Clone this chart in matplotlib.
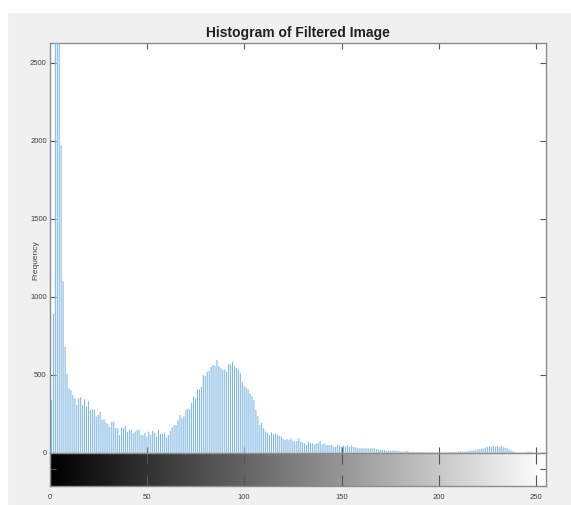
import numpy as np
import matplotlib
matplotlib.use('Agg')
import matplotlib.pyplot as plt
from matplotlib.patches import Rectangle

# histogram counts for gray levels 0..255
c_000 = [3100, 340, 890, 3300, 2900, 3000, 1970, 1100, 680, 505]
c_010 = [413, 402, 370, 349, 306, 349, 355, 306, 342, 295]
c_020 = [331, 274, 278, 278, 231, 241, 263, 210, 214, 193]
c_030 = [184, 163, 199, 199, 157, 157, 113]
c_037 = [162, 156, 171, 135, 145, 145, 124, 135, 145, 150,
         113, 113, 128, 103, 135, 113, 141, 128, 103, 145,
         120, 120, 128, 98, 113, 141, 162, 177, 177, 209,
         241, 220, 231, 274, 284, 278, 321, 359, 348, 406]
c_077 = [406, 423, 498, 491, 519, 526, 551, 562, 556, 594,
         556, 541, 530, 534, 519, 568, 562, 583, 551, 541,
         534, 509, 455, 427, 419, 406, 380, 363, 338, 274,
         235, 177, 192, 156, 135, 128, 113]
c_114 = [130, 118, 124, 118, 109, 103, 88, 81, 88, 81,
         92, 75, 70, 75, 92, 70, 66, 60, 49, 70,
         60, 60, 53, 60, 60, 75, 53, 60, 49, 49,
         49, 49, 38, 38, 53, 45, 38, 45, 38, 49]
c_154 = [38, 45, 38, 34, 32, 28, 28, 28, 28, 28,
         28, 28, 28, 28, 23, 17, 17, 17, 17, 13,
         13, 13, 13, 17, 13, 11, 11, 6, 6, 11, 11]
c_185 = [5, 4, 6, 3, 4, 3, 2, 3, 2, 2,
         3, 2, 2, 1, 2, 2, 1, 2, 3, 2,
         3, 4, 3, 5, 4, 6, 8, 9]
c_213 = [6, 9, 11, 13, 14, 15, 17, 21, 23, 28,
         28, 34, 38, 43, 38, 45, 38, 45, 36, 43,
         36, 32, 28, 21, 15, 8, 4, 2]
c_241 = [1, 1, 0, 1, 5, 6, 5, 2, 0, 0, 0, 0, 0, 0, 0]

counts = np.array(c_000 + c_010 + c_020 + c_030 + c_037 + c_077 +
                  c_114 + c_154 + c_185 + c_213 + c_241)
levels = np.arange(len(counts))
xticks = [0, 50, 100, 150, 200, 250]
yticks = [0, 500, 1000, 1500, 2000, 2500]

W, H = 571, 505
fig = plt.figure(figsize=(W/100, H/100), dpi=100, facecolor='#f0f0f0')
# white strips of the screenshot border
fig.patches.append(Rectangle((0, 1-12/H), 1, 12/H, transform=fig.transFigure,
                             color='white', zorder=0))
fig.patches.append(Rectangle((0, 0), 7/W, 1, transform=fig.transFigure,
                             color='white', zorder=0))

font = ['Liberation Sans', 'DejaVu Sans']
edge = '#8c8c8c'

x0, x1 = 49.5, 546
ax = fig.add_axes([x0/W, (H-452.7)/H, (x1-x0)/W, (452.7-42.7)/H])
ax.vlines(levels, 0, counts, color='#7db6e3', lw=0.75, zorder=3, snap=False)
ax.set_xlim(0, 255)
ax.set_ylim(0, 2628)
ax.set_xticks(xticks[1:])
ax.set_xticklabels([])
ax.set_yticks(yticks)
ax.set_yticklabels([str(t) for t in yticks], family=font, fontsize=5.5,
                   color='#404040')
ax.tick_params(direction='in', length=4, width=0.8, color='#555555',
               top=True, right=True, pad=2)
for s in ax.spines.values():
    s.set_color(edge)
    s.set_linewidth(1)
ax.set_ylabel('Frequency', family=font, fontsize=6, color='#404040')
ax.yaxis.set_label_coords(-0.02, 0.47)
ax.set_title('Histogram of Filtered Image', family=font, fontsize=10,
             fontweight='bold', color='#202020', pad=4)

# gray level colour bar under the histogram
cax = fig.add_axes([x0/W, (H-486)/H, (x1-x0)/W, (486-452.7)/H])
grad = np.linspace(0, 1, 256).reshape(1, -1)
cax.imshow(grad, cmap='gray', aspect='auto', extent=[0, 255, 0, 1])
cax.set_xlim(0, 255)
cax.set_ylim(0, 1)
cax.set_xticks(xticks)
cax.set_xticklabels([str(t) for t in xticks], family=font, fontsize=5.5,
                    color='#404040')
cax.set_yticks([0.5])
cax.set_yticklabels([])
cax.tick_params(direction='in', length=8, width=0.8, color='#555555',
                top=True, right=True, pad=6)
cax.tick_params(axis='y', length=4)
for s in cax.spines.values():
    s.set_color(edge)
    s.set_linewidth(1)

fig.savefig('out.png', dpi=100, facecolor=fig.get_facecolor())
